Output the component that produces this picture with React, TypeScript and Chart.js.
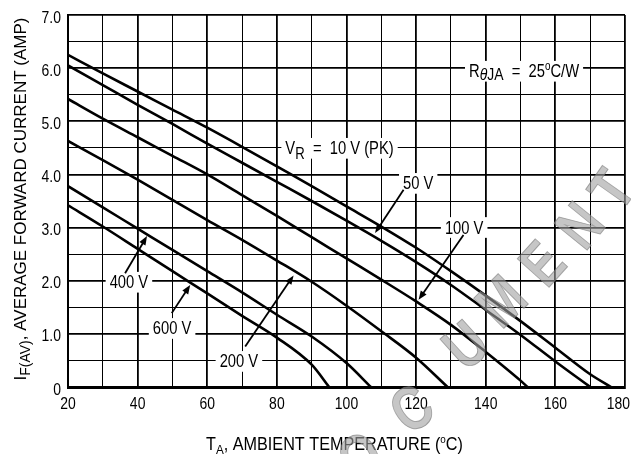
import React, { useEffect, useRef } from 'react';
import { Chart, registerables } from 'chart.js';

Chart.register(...registerables);

// ---- Data ----
const temps10V = [20, 30, 40, 50, 60, 70, 80, 90, 100, 110, 120, 130, 140, 150, 160, 170, 176];
const current10V = [6.25, 5.9, 5.56, 5.22, 4.88, 4.52, 4.15, 3.78, 3.4, 3.02, 2.62, 2.18, 1.72, 1.24, 0.74, 0.24, 0];

const temps50V = [20, 30, 40, 50, 60, 70, 80, 90, 100, 110, 120, 130, 140, 150, 160, 170];
const current50V = [6.05, 5.68, 5.31, 4.95, 4.58, 4.22, 3.86, 3.5, 3.13, 2.75, 2.35, 1.92, 1.45, 0.98, 0.48, 0];

const temps100V = [20, 30, 40, 50, 60, 70, 80, 90, 100, 110, 120, 130, 140, 150, 152];
const current100V = [5.42, 5.05, 4.7, 4.35, 4.0, 3.61, 3.22, 2.82, 2.42, 2.02, 1.61, 1.17, 0.66, 0.12, 0];

const temps200V = [20, 30, 40, 50, 60, 70, 80, 90, 100, 110, 120, 129];
const current200V = [4.63, 4.27, 3.9, 3.52, 3.14, 2.77, 2.38, 1.98, 1.53, 1.05, 0.55, 0];

const temps400V = [20, 30, 40, 50, 60, 70, 80, 90, 100, 107];
const current400V = [3.78, 3.38, 2.98, 2.58, 2.18, 1.78, 1.36, 0.95, 0.45, 0];

const temps600V = [20, 30, 40, 50, 60, 70, 80, 90, 95];
const current600V = [3.42, 3.02, 2.6, 2.18, 1.76, 1.34, 0.93, 0.42, 0];

const seriesNames = ['10 V', '50 V', '100 V', '200 V', '400 V', '600 V'];
const seriesTemps = [temps10V, temps50V, temps100V, temps200V, temps400V, temps600V];
const seriesCurrents = [current10V, current50V, current100V, current200V, current400V, current600V];

// axis ranges and tick labels
const xMin = 20;
const xMax = 180;
const xStep = 10;
const xTickLabels = [20, 40, 60, 80, 100, 120, 140, 160, 180];
const yMin = 0;
const yMax = 7;
const yStep = 0.5;
const yTickValues = [0, 1, 2, 3, 4, 5, 6, 7];
const yTickLabels = ['0', '1.0', '2.0', '3.0', '4.0', '5.0', '6.0', '7.0'];

// label anchors in data units (temperature, current)
const labelTemps = [151, 98, 120.6, 133.8, 37.5, 49.9, 69.1];
const labelCurrents = [5.95, 4.5, 3.84, 3.01, 1.98, 1.11, 0.49];

// arrows (from -> to), data units
const arrowFromT = [116.4, 133.6, 36.4, 49.8, 70.9];
const arrowFromI = [3.71, 2.86, 2.14, 1.39, 0.76];
const arrowToT = [108.2, 120.7, 42.7, 55.1, 84.8];
const arrowToI = [2.9, 1.64, 2.84, 1.92, 2.1];

const FAMILY = "'Liberation Sans', Arial, sans-serif";
const NARROW_SCALE = 0.82;

type Seg = { t: string; size?: number; dy?: number; italic?: boolean };

function segFont(s: Seg, base: number) {
  return `${s.italic ? 'italic ' : ''}${s.size ?? base}px ${FAMILY}`;
}

function measureRich(ctx: CanvasRenderingContext2D, segs: Seg[], base: number) {
  return segs.map((s) => {
    ctx.font = segFont(s, base);
    return ctx.measureText(s.t).width;
  });
}

// draws a run of text segments; align: 'center' | 'right'
function drawRich(
  ctx: CanvasRenderingContext2D,
  segs: Seg[],
  cx: number,
  cy: number,
  base: number,
  sx: number,
  bg: boolean,
  align: 'center' | 'right' = 'center'
) {
  const widths = measureRich(ctx, segs, base);
  const total = widths.reduce((a, b) => a + b, 0);
  ctx.save();
  ctx.translate(cx, cy);
  ctx.scale(sx, 1);
  const start = align === 'center' ? -total / 2 : -total;
  if (bg) {
    ctx.fillStyle = '#fff';
    ctx.fillRect(start - 4 / sx, -base * 0.55, total + 8 / sx, base * 1.15);
  }
  ctx.fillStyle = '#000';
  ctx.textBaseline = 'alphabetic';
  ctx.textAlign = 'left';
  let x = start;
  segs.forEach((s, i) => {
    ctx.font = segFont(s, base);
    ctx.fillText(s.t, x, base * 0.36 + (s.dy ?? 0));
    x += widths[i];
  });
  ctx.restore();
}

const labelSegs: Seg[][] = [
  [{ t: 'R' }, { t: 'θ', italic: true, size: 17, dy: 3 }, { t: 'JA', size: 17, dy: 3 }, { t: '  =  25' }, { t: 'o', size: 12, dy: -7 }, { t: 'C/W' }],
  [{ t: 'V' }, { t: 'R', size: 16, dy: 5 }, { t: '  =  10 V (PK)' }],
  [{ t: '50 V' }],
  [{ t: '100 V' }],
  [{ t: '400 V' }],
  [{ t: '600 V' }],
  [{ t: '200 V' }],
];

const watermarkLetters = ['O', 'C', 'U', 'M', 'E', 'N', 'T'];
const watermarkX = [362, 414, 468, 504, 545, 583, 615];
const watermarkY = [460, 412, 348, 304, 266, 228, 192];
const watermarkRot = [-30, -36, -42, -45, -48, -51, -55];

const annotationPlugin = {
  id: 'annotations',
  afterDatasetsDraw(chart: any) {
    const { ctx, scales, chartArea, width } = chart;
    const xs = scales.x;
    const ys = scales.y;
    ctx.save();
    // tick labels (condensed face)
    xTickLabels.forEach((v) => {
      const segs = [{ t: String(v) }];
      const w = measureRich(ctx, segs, 17)[0] * NARROW_SCALE;
      const cx = Math.min(xs.getPixelForValue(v), width - 1 - w / 2);
      drawRich(ctx, segs, cx, chartArea.bottom + 15.5, 17, NARROW_SCALE, false);
    });
    yTickValues.forEach((v, i) => {
      drawRich(ctx, [{ t: yTickLabels[i] }], chartArea.left - 7, ys.getPixelForValue(v) + 1.5, 17, NARROW_SCALE, false, 'right');
    });
    // text labels
    labelSegs.forEach((segs, i) => {
      drawRich(ctx, segs, xs.getPixelForValue(labelTemps[i]), ys.getPixelForValue(labelCurrents[i]), 18, NARROW_SCALE, true);
    });
    // arrows
    ctx.strokeStyle = '#000';
    ctx.fillStyle = '#000';
    ctx.lineWidth = 1.8;
    arrowFromT.forEach((_, i) => {
      const x0 = xs.getPixelForValue(arrowFromT[i]);
      const y0 = ys.getPixelForValue(arrowFromI[i]);
      const x1 = xs.getPixelForValue(arrowToT[i]);
      const y1 = ys.getPixelForValue(arrowToI[i]);
      const ang = Math.atan2(y1 - y0, x1 - x0);
      const L = 9;
      const W = 3.5;
      ctx.beginPath();
      ctx.moveTo(x0, y0);
      ctx.lineTo(x1 - Math.cos(ang) * L * 0.8, y1 - Math.sin(ang) * L * 0.8);
      ctx.stroke();
      ctx.beginPath();
      ctx.moveTo(x1, y1);
      ctx.lineTo(x1 - Math.cos(ang) * L - Math.sin(ang) * W, y1 - Math.sin(ang) * L + Math.cos(ang) * W);
      ctx.lineTo(x1 - Math.cos(ang) * L + Math.sin(ang) * W, y1 - Math.sin(ang) * L - Math.cos(ang) * W);
      ctx.closePath();
      ctx.fill();
    });
    ctx.restore();
  },
  afterDraw(chart: any) {
    const { ctx, chartArea } = chart;
    ctx.save();
    // x title
    const xc = (chartArea.left + chartArea.right) / 2 - 12;
    drawRich(
      ctx,
      [{ t: 'T' }, { t: 'A', size: 13, dy: 4 }, { t: ', AMBIENT TEMPERATURE (' }, { t: 'o', size: 11, dy: -7 }, { t: 'C)' }],
      xc,
      chartArea.bottom + 57,
      18,
      0.9,
      false
    );
    // y title
    ctx.translate(20, (chartArea.top + chartArea.bottom) / 2 - 2);
    ctx.rotate(-Math.PI / 2);
    drawRich(
      ctx,
      [{ t: 'I' }, { t: 'F(AV)', size: 14, dy: 4 }, { t: ', AVERAGE FORWARD CURRENT (AMP)' }],
      0,
      0,
      17,
      1.0,
      false
    );
    ctx.restore();
    // archive watermark
    ctx.save();
    ctx.font = `bold 62px ${FAMILY}`;
    ctx.textAlign = 'center';
    ctx.textBaseline = 'middle';
    watermarkLetters.forEach((ch, i) => {
      ctx.save();
      ctx.translate(watermarkX[i], watermarkY[i]);
      ctx.rotate((watermarkRot[i] * Math.PI) / 180);
      ctx.scale(0.8, 1);
      ctx.fillStyle = 'rgba(160,160,160,0.6)';
      ctx.fillText(ch, 0, 0);
      ctx.strokeStyle = 'rgba(120,120,120,0.6)';
      ctx.lineWidth = 1;
      ctx.strokeText(ch, 0, 0);
      ctx.restore();
    });
    ctx.restore();
  },
};

export default function App() {
  const canvasRef = useRef<HTMLCanvasElement | null>(null);

  useEffect(() => {
    const canvas = canvasRef.current;
    if (!canvas) return;
    const datasets = seriesNames.map((name, k) => ({
      label: name,
      data: seriesTemps[k].map((t, j) => ({ x: t, y: seriesCurrents[k][j] })),
      borderColor: '#000',
      borderWidth: 2.6,
      pointRadius: 0,
      fill: false,
      cubicInterpolationMode: 'monotone' as const,
    }));

    const chart = new Chart(canvas, {
      type: 'line',
      data: { datasets },
      options: {
        animation: false,
        responsive: false,
        devicePixelRatio: 1,
        events: [],
        layout: { padding: { top: 15, right: 6, left: 0, bottom: 0 } },
        plugins: { legend: { display: false }, tooltip: { enabled: false }, title: { display: false } },
        scales: {
          x: {
            type: 'linear',
            min: xMin,
            max: xMax,
            afterFit: (scale: any) => {
              scale.height = 67;
              scale.paddingLeft = 0;
              scale.paddingRight = 0;
            },
            ticks: { stepSize: xStep, autoSkip: false, maxRotation: 0, display: false },
            grid: {
              color: '#000',
              drawTicks: false,
              lineWidth: (c: any) => (c.tick && c.tick.value % 20 === 0 ? 1.8 : 1),
            },
            border: { display: true, color: '#000', width: 3 },
          },
          y: {
            type: 'linear',
            min: yMin,
            max: yMax,
            afterFit: (scale: any) => {
              scale.width = 68;
              scale.paddingTop = 0;
              scale.paddingBottom = 0;
            },
            ticks: { stepSize: yStep, autoSkip: false, display: false },
            grid: {
              color: '#000',
              drawTicks: false,
              lineWidth: (c: any) => (c.tick && Number.isInteger(c.tick.value) ? 1.8 : 1),
            },
            border: { display: true, color: '#000', width: 2 },
          },
        },
      },
      plugins: [annotationPlugin],
    });
    return () => chart.destroy();
  }, []);

  return (
    <div style={{ position: 'fixed', left: 0, top: 0, width: 631, height: 454, background: '#fff' }}>
      <canvas ref={canvasRef} width={631} height={454} style={{ width: 631, height: 454, display: 'block' }} />
    </div>
  );
}
